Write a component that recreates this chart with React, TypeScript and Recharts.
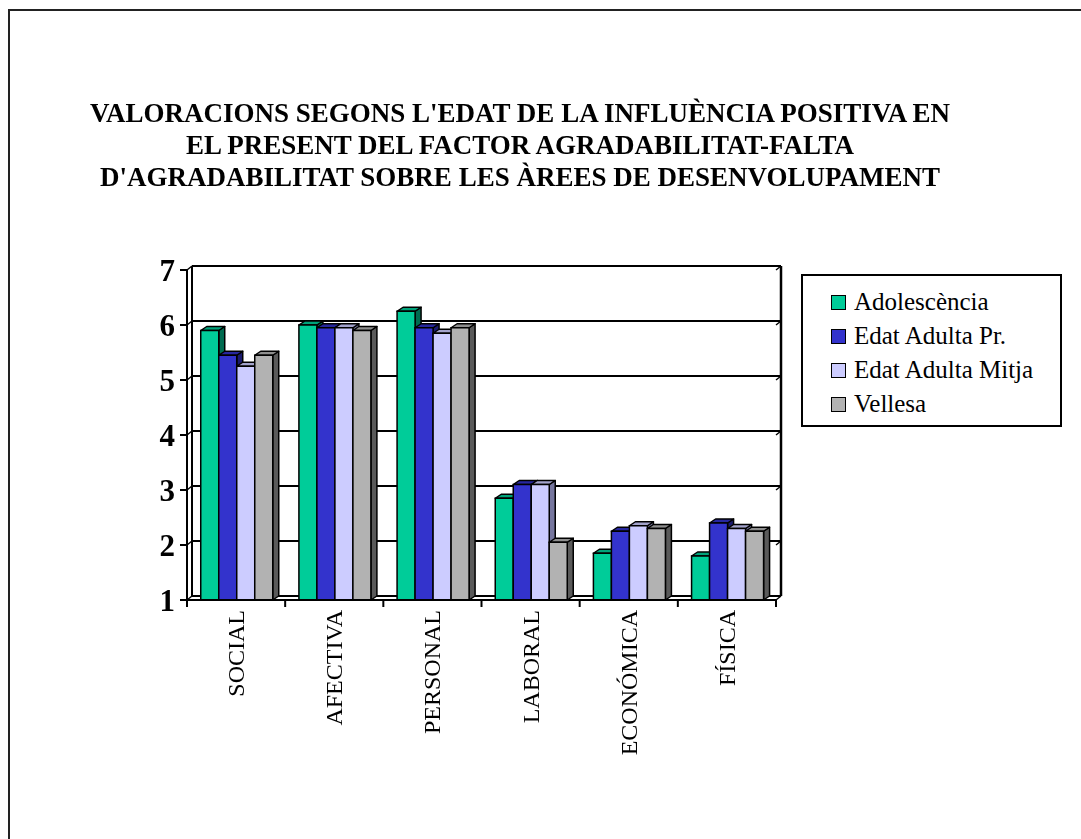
import { Bar, BarChart, CartesianGrid, Legend, ReferenceArea, XAxis, YAxis } from "recharts";

const categories = ["SOCIAL", "AFECTIVA", "PERSONAL", "LABORAL", "ECONÓMICA", "FÍSICA"];
const adolescencia = [5.9, 6.0, 6.25, 2.85, 1.85, 1.8];
const adultaPr = [5.45, 5.95, 5.95, 3.1, 2.25, 2.4];
const adultaMitja = [5.25, 5.95, 5.85, 3.1, 2.35, 2.3];
const vellesa = [5.45, 5.9, 5.95, 2.05, 2.3, 2.25];
const yTicks = [1, 2, 3, 4, 5, 6, 7];

const titleLines = [
  "VALORACIONS SEGONS L'EDAT DE LA INFLUÈNCIA POSITIVA EN",
  "EL PRESENT DEL FACTOR AGRADABILITAT-FALTA",
  "D'AGRADABILITAT SOBRE LES ÀREES DE DESENVOLUPAMENT",
];

type SeriesStyle = { key: string; name: string; front: string; top: string; side: string };

const series: SeriesStyle[] = [
  { key: "adol", name: "Adolescència", front: "#00CC99", top: "#00a37a", side: "#006b50" },
  { key: "pr", name: "Edat Adulta Pr.", front: "#3333CC", top: "#27279e", side: "#1b1b6e" },
  { key: "mitja", name: "Edat Adulta Mitja", front: "#CCCCFF", top: "#a3a3cc", side: "#76769e" },
  { key: "vell", name: "Vellesa", front: "#B2B2B2", top: "#8e8e8e", side: "#5a5a5a" },
];

const data = categories.map((area, i) => ({
  area,
  adol: adolescencia[i],
  pr: adultaPr[i],
  mitja: adultaMitja[i],
  vell: vellesa[i],
}));

const FONT = '"Liberation Serif", "Times New Roman", serif';
const BAR_DX = 6;
const BAR_DY = 4;
const WALL_DX = 5;
const WALL_DY = 4;

function Bar3D(props: any) {
  const { x, y, width, height, colors } = props;
  if (!height || height <= 0) return null;
  const c: SeriesStyle = colors;
  const top = `${x},${y} ${x + BAR_DX},${y - BAR_DY} ${x + width + BAR_DX},${y - BAR_DY} ${x + width},${y}`;
  const side = `${x + width},${y} ${x + width + BAR_DX},${y - BAR_DY} ${x + width + BAR_DX},${y + height - BAR_DY} ${x + width},${y + height}`;
  return (
    <g>
      <polygon points={side} fill={c.side} stroke="#000" strokeWidth={1.5} strokeLinejoin="round" />
      <polygon points={top} fill={c.top} stroke="#000" strokeWidth={1.5} strokeLinejoin="round" />
      <rect x={x} y={y} width={width} height={height} fill={c.front} stroke="#000" strokeWidth={1.5} />
    </g>
  );
}

function GridLine(props: any) {
  const { x1, x2, y1, index } = props;
  return (
    <g key={`grid-${index}`}>
      <line x1={x1 + WALL_DX} x2={x2 + WALL_DX} y1={y1 - WALL_DY} y2={y1 - WALL_DY} stroke="#000" strokeWidth={2} />
      <line x1={x1} x2={x1 + WALL_DX} y1={y1} y2={y1 - WALL_DY} stroke="#000" strokeWidth={1.5} />
      <line x1={x2} x2={x2 + WALL_DX} y1={y1} y2={y1 - WALL_DY} stroke="#000" strokeWidth={1.5} />
    </g>
  );
}

function BackWall(props: any) {
  const { x, y, width, height } = props;
  const l = x + WALL_DX;
  const r = x + width + WALL_DX;
  const t = y - WALL_DY;
  const b = y + height - WALL_DY;
  return (
    <g>
      <line x1={l} x2={l} y1={t} y2={b} stroke="#000" strokeWidth={2} />
      <line x1={r} x2={r} y1={t} y2={b} stroke="#000" strokeWidth={2.5} />
    </g>
  );
}

function CategoryTick(props: any) {
  const { x, y, payload, index } = props;
  const half = payload?.offset ?? 49;
  const last = index === categories.length - 1;
  return (
    <g>
      <line x1={x - half} x2={x - half} y1={y} y2={y + 7} stroke="#000" strokeWidth={2} />
      {last && <line x1={x + half} x2={x + half} y1={y} y2={y + 7} stroke="#000" strokeWidth={2} />}
      <text
        transform={`translate(${x + 8},${y + 10}) rotate(-90)`}
        textAnchor="end"
        fontFamily={FONT}
        fontSize={24}
        fill="#000"
      >
        {payload.value}
      </text>
    </g>
  );
}

function LegendBox() {
  return (
    <div
      style={{
        boxSizing: "border-box",
        width: 261,
        height: 153,
        border: "2px solid #000",
        background: "#fff",
        paddingTop: 9,
        paddingLeft: 28,
        fontFamily: FONT,
        fontSize: 25,
        color: "#000",
      }}
    >
      {series.map((s) => (
        <div key={s.key} style={{ height: 34, display: "flex", alignItems: "center", whiteSpace: "nowrap" }}>
          <span
            style={{
              display: "inline-block",
              boxSizing: "border-box",
              width: 15,
              height: 15,
              background: s.front,
              border: "1.5px solid #000",
              marginRight: 8,
            }}
          />
          <span>{s.name}</span>
        </div>
      ))}
    </div>
  );
}

export default function App() {
  return (
    <>
      <div
        style={{
          position: "fixed",
          left: 8,
          top: 9,
          width: 2000,
          height: 2000,
          borderTop: "2px solid #222",
          borderLeft: "2px solid #222",
          pointerEvents: "none",
        }}
      />
      <div style={{ position: "relative", width: 1065, height: 823, fontFamily: FONT }}>
        <svg
          width={1065}
          height={200}
          style={{ position: "absolute", left: 0, top: 0, pointerEvents: "none" }}
        >
          {titleLines.map((line, i) => (
            <text
              key={line}
              x={512}
              y={114 + i * 32}
              textAnchor="middle"
              fontFamily={FONT}
              fontWeight="bold"
              fontSize={27}
              fill="#000"
            >
              {line}
            </text>
          ))}
        </svg>
        <BarChart
          width={1065}
          height={823}
          data={data}
          margin={{ top: 262, right: 297, left: 119, bottom: 71 }}
          barCategoryGap="14%"
          barGap={0}
        >
          <CartesianGrid vertical={false} horizontal={(p: any) => <GridLine {...p} />} />
          <ReferenceArea y1={1} y2={7} ifOverflow="visible" shape={(p: any) => <BackWall {...p} />} />
          <XAxis
            dataKey="area"
            interval={0}
            height={160}
            tickSize={0}
            tickMargin={0}
            axisLine={{ stroke: "#000", strokeWidth: 2 }}
            tick={(p: any) => <CategoryTick {...p} />}
          />
          <YAxis
            type="number"
            domain={[1, 7]}
            ticks={yTicks}
            interval={0}
            width={60}
            tickSize={7}
            tickMargin={5}
            axisLine={{ stroke: "#000", strokeWidth: 2 }}
            tickLine={{ stroke: "#000", strokeWidth: 2 }}
            tick={{ fill: "#000", fontFamily: FONT, fontWeight: "bold", fontSize: 31 }}
          />
          {series.map((s) => (
            <Bar
              key={s.key}
              dataKey={s.key}
              name={s.name}
              fill={s.front}
              isAnimationActive={false}
              shape={(p: any) => <Bar3D {...p} colors={s} />}
            />
          ))}
          <Legend
            layout="horizontal"
            verticalAlign="middle"
            align="center"
            wrapperStyle={{ left: 793, top: 266, width: 261, height: 153 }}
            content={() => <LegendBox />}
          />
        </BarChart>
      </div>
    </>
  );
}
